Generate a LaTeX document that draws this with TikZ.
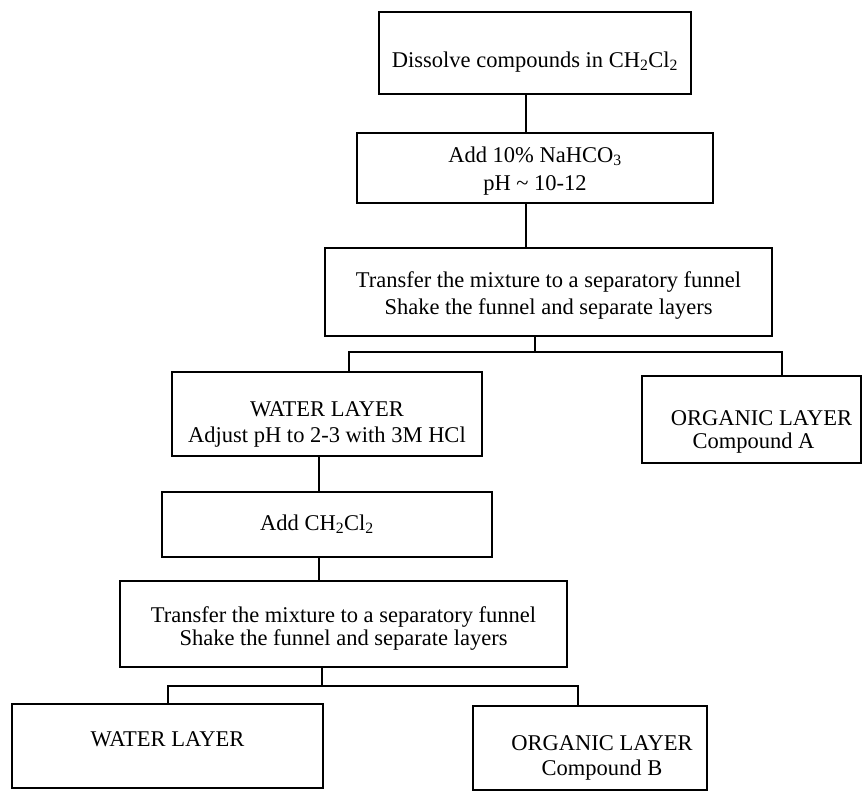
\documentclass[tikz,border=0pt]{standalone}
\usepackage{fontspec}
\setmainfont{Liberation Serif}

% invisible strut: pushes the text of a box down
\newcommand{\topgap}[1]{\rule{0pt}{#1}}

\begin{document}
\begin{tikzpicture}[x = 1pt, y = -1pt, % one unit per pixel, y downwards
                line width = 1.1pt, % connector lines
                font = \fontsize{22.5}{25}\selectfont
            ]

            \tikzstyle{box}=[draw = black, rectangle, line width = 1.3pt,
            align = center, inner sep = 0pt]

            \useasboundingbox (0,0) rectangle (862,791);

            % first extraction
            \node (dissolve) [box, minimum width = 312pt, minimum height = 82pt] at (535,53)
            {\topgap{33pt}Dissolve compounds in CH\textsubscript{2}Cl\textsubscript{2}};
            \node (bicarb) [box, minimum width = 356pt, minimum height = 70pt,
            font = \fontsize{22.5}{28}\selectfont] at (535,168)
            {\topgap{21pt}Add 10\% NaHCO\textsubscript{3}\\pH \textasciitilde{} 10-12};
            \node (sepA) [box, minimum width = 447pt, minimum height = 88pt,
            font = \fontsize{22.5}{27}\selectfont] at (548.5,292)
            {\topgap{23pt}Transfer the mixture to a separatory funnel\\Shake the funnel and separate layers};
            \node (waterA) [box, minimum width = 310pt, minimum height = 84pt,
            font = \fontsize{22.5}{26}\selectfont] at (327,414)
            {\topgap{35pt}WATER LAYER\\Adjust pH to 2-3 with 3M HCl};
            \node (orgA) [box, minimum width = 219pt, minimum height = 87pt,
            font = \fontsize{22.5}{23}\selectfont] at (751.5,419.5)
            {\topgap{39pt}\hspace*{20pt}ORGANIC LAYER\\\hspace*{4pt}Compound A};

            % second extraction
            \node (addDCM) [box, minimum width = 330pt, minimum height = 65pt] at (327,524.5)
            {\hspace*{-20pt}Add CH\textsubscript{2}Cl\textsubscript{2}};
            \node (sepB) [box, minimum width = 447pt, minimum height = 86pt,
            font = \fontsize{22.5}{23}\selectfont] at (343.5,624)
            {\topgap{25pt}Transfer the mixture to a separatory funnel\\Shake the funnel and separate layers};
            \node (waterB) [box, minimum width = 311pt, minimum height = 84pt] at (167.5,746)
            {WATER LAYER\rule[-13pt]{0pt}{0pt}};
            \node (orgB) [box, minimum width = 234pt, minimum height = 84pt] at (590,748)
            {\topgap{35pt}\hspace*{24pt}ORGANIC LAYER\\\hspace*{24pt}Compound B};

            \coordinate (trunkA) at (526,0); \coordinate (trunkB) at (319,0);
            \coordinate (forkA) at (535,352); \coordinate (forkB) at (322,686);
            \coordinate (legWA) at (349,352); \coordinate (legOA) at (782,352);
            \coordinate (legWB) at (168,686); \coordinate (legOB) at (578,686);

            \draw (dissolve.south -| trunkA) -- (bicarb.north -| trunkA);
            \draw (bicarb.south -| trunkA) -- (sepA.north -| trunkA);
            \draw (sepA.south -| forkA) -- (forkA);
            \draw (waterA.north -| legWA) -- (legWA) -- (legOA) -- (orgA.north -| legOA);

            \draw (waterA.south -| trunkB) -- (addDCM.north -| trunkB);
            \draw (addDCM.south -| trunkB) -- (sepB.north -| trunkB);
            \draw (sepB.south -| forkB) -- (forkB);
            \draw (waterB.north -| legWB) -- (legWB) -- (legOB) -- (orgB.north -| legOB);

        \end{tikzpicture}
\end{document}
